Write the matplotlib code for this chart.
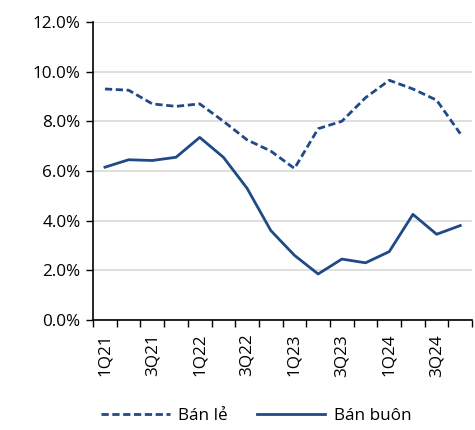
import matplotlib
matplotlib.use("Agg")
from matplotlib import pyplot as plt
from matplotlib.ticker import FuncFormatter
import numpy as np

quarters = ["1Q21", "2Q21", "3Q21", "4Q21", "1Q22", "2Q22", "3Q22", "4Q22",
            "1Q23", "2Q23", "3Q23", "4Q23", "1Q24", "2Q24", "3Q24", "4Q24"]
ban_le = [9.3, 9.25, 8.7, 8.6, 8.7, 8.0, 7.25, 6.8,
          6.1, 7.7, 8.0, 8.95, 9.65, 9.3, 8.85, 7.5]
ban_buon = [6.15, 6.45, 6.42, 6.55, 7.35, 6.55, 5.3, 3.6,
            2.6, 1.85, 2.45, 2.3, 2.75, 4.25, 3.45, 3.8]

navy = "#1f4a86"
plt.rcParams["font.family"] = ["Open Sans", "DejaVu Sans"]
fs = 12.3

fig = plt.figure(figsize=(4.75, 4.3), dpi=100)
ax = fig.add_axes([0.196, 0.256, 0.798, 0.693])

x = np.arange(len(quarters))
ax.plot(x, ban_le, color=navy, lw=2.0, ls=(0, (2.6, 1.3)), label="Bán lẻ")
ax.plot(x, ban_buon, color=navy, lw=2.0, label="Bán buôn")

ax.set_ylim(0, 12)
ax.set_yticks(np.arange(0, 12.1, 2))
ax.yaxis.set_major_formatter(FuncFormatter(lambda v, p: f"{v:.1f}%"))
ax.grid(axis="y", color="#d9d9d9", lw=1.2)
ax.set_axisbelow(True)

ax.set_xlim(-0.5, len(quarters) - 0.5)
ax.set_xticks(x[::2])
ax.set_xticklabels(quarters[::2], rotation=90)
ax.set_xticks(np.arange(-0.5, len(quarters), 1), minor=True)
ax.tick_params(axis="x", which="major", length=0, pad=10, labelsize=fs)
ax.tick_params(axis="x", which="minor", length=5, width=1, color="black")
ax.tick_params(axis="y", length=5, width=1, labelsize=fs, pad=4)

for s in ["top", "right"]:
    ax.spines[s].set_visible(False)
for s in ["left", "bottom"]:
    ax.spines[s].set_color("black")
    ax.spines[s].set_linewidth(1.2)

fig.legend(loc="center", bbox_to_anchor=(0.54, 0.033), ncol=2, frameon=False,
           fontsize=fs, handlelength=4.0, columnspacing=1.7, handletextpad=0.5)

fig.savefig("out.png", dpi=100)
